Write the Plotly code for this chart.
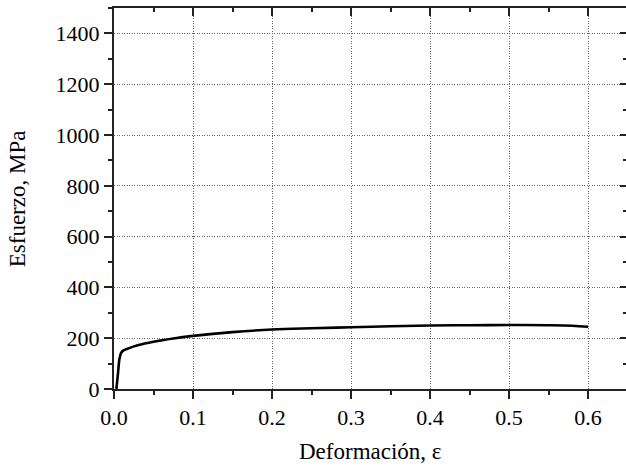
import plotly.graph_objects as go

strain = [0.003, 0.005, 0.007, 0.009, 0.012, 0.02, 0.03, 0.05, 0.075, 0.1, 0.15,
          0.2, 0.25, 0.3, 0.35, 0.4, 0.45, 0.5, 0.55, 0.58, 0.6]
stress = [0, 60, 120, 142, 152, 162, 172, 186, 199, 209, 224,
          234, 239, 243, 247, 250, 251, 252, 251, 249, 245]
x_ticks = [0, 0.1, 0.2, 0.3, 0.4, 0.5, 0.6]
x_labels = ["0.0", "0.1", "0.2", "0.3", "0.4", "0.5", "0.6"]
y_ticks = [0, 200, 400, 600, 800, 1000, 1200, 1400]
x_title = "Deformación, ε"
y_title = "Esfuerzo, MPa"

FONT = "Liberation Serif"
TC = "#222"
fig = go.Figure()
fig.add_trace(go.Scatter(x=strain, y=stress, mode="lines",
                         line=dict(color="black", width=2.6, shape="spline"),
                         showlegend=False, hoverinfo="skip"))
fig.add_trace(go.Scatter(x=[None], y=[None], xaxis="x2", yaxis="y2", showlegend=False))

XR = [0, 0.648]
YR = [0, 1500]
common = dict(showgrid=True, gridcolor="#666", griddash="1px,1.5px", gridwidth=1,
              zeroline=False, automargin=False,
              showline=True, linewidth=2, linecolor=TC,
              ticks="outside", ticklen=8, tickwidth=2, tickcolor=TC,
              tickfont=dict(family=FONT, size=22, color="black"))
fig.update_layout(
    width=626, height=468,
    margin=dict(l=114, r=0, t=8, b=79),
    paper_bgcolor="white", plot_bgcolor="white",
    font=dict(family=FONT, color="black", size=22),
    xaxis=dict(range=XR, tickvals=x_ticks, ticktext=x_labels,
               minor=dict(dtick=0.05, tick0=0, ticks="outside", ticklen=4, tickwidth=2, tickcolor=TC, showgrid=False),
               **common),
    yaxis=dict(range=YR, tickvals=y_ticks,
               minor=dict(dtick=100, tick0=0, ticks="outside", ticklen=4, tickwidth=2, tickcolor=TC, showgrid=False),
               **common),
    xaxis2=dict(range=XR, overlaying="x", side="top", anchor="y",
                tickvals=x_ticks, showticklabels=False,
                ticks="inside", ticklen=8, tickwidth=2, tickcolor=TC,
                minor=dict(dtick=0.05, tick0=0, ticks="inside", ticklen=4, tickwidth=2, tickcolor=TC),
                showline=True, linewidth=2, linecolor=TC, showgrid=False, zeroline=False, automargin=False),
    yaxis2=dict(range=YR, overlaying="y", side="right", anchor="x",
                tickvals=y_ticks, showticklabels=False,
                ticks="inside", ticklen=6, tickwidth=2, tickcolor=TC,
                minor=dict(dtick=100, tick0=0, ticks="inside", ticklen=3, tickwidth=2, tickcolor=TC),
                showline=False, showgrid=False, zeroline=False, automargin=False),
    annotations=[
        dict(text=x_title, xref="paper", yref="paper", x=0.5, y=-0.165, yanchor="middle",
             xanchor="center", showarrow=False, font=dict(family=FONT, size=23)),
        dict(text=y_title, xref="paper", yref="paper", x=-0.188, y=0.5, xanchor="center",
             yanchor="middle", textangle=-90, showarrow=False, font=dict(family=FONT, size=23)),
    ],
)
fig.write_html("out.html", config={"displayModeBar": False},
               post_script="document.body.style.margin='0';")
